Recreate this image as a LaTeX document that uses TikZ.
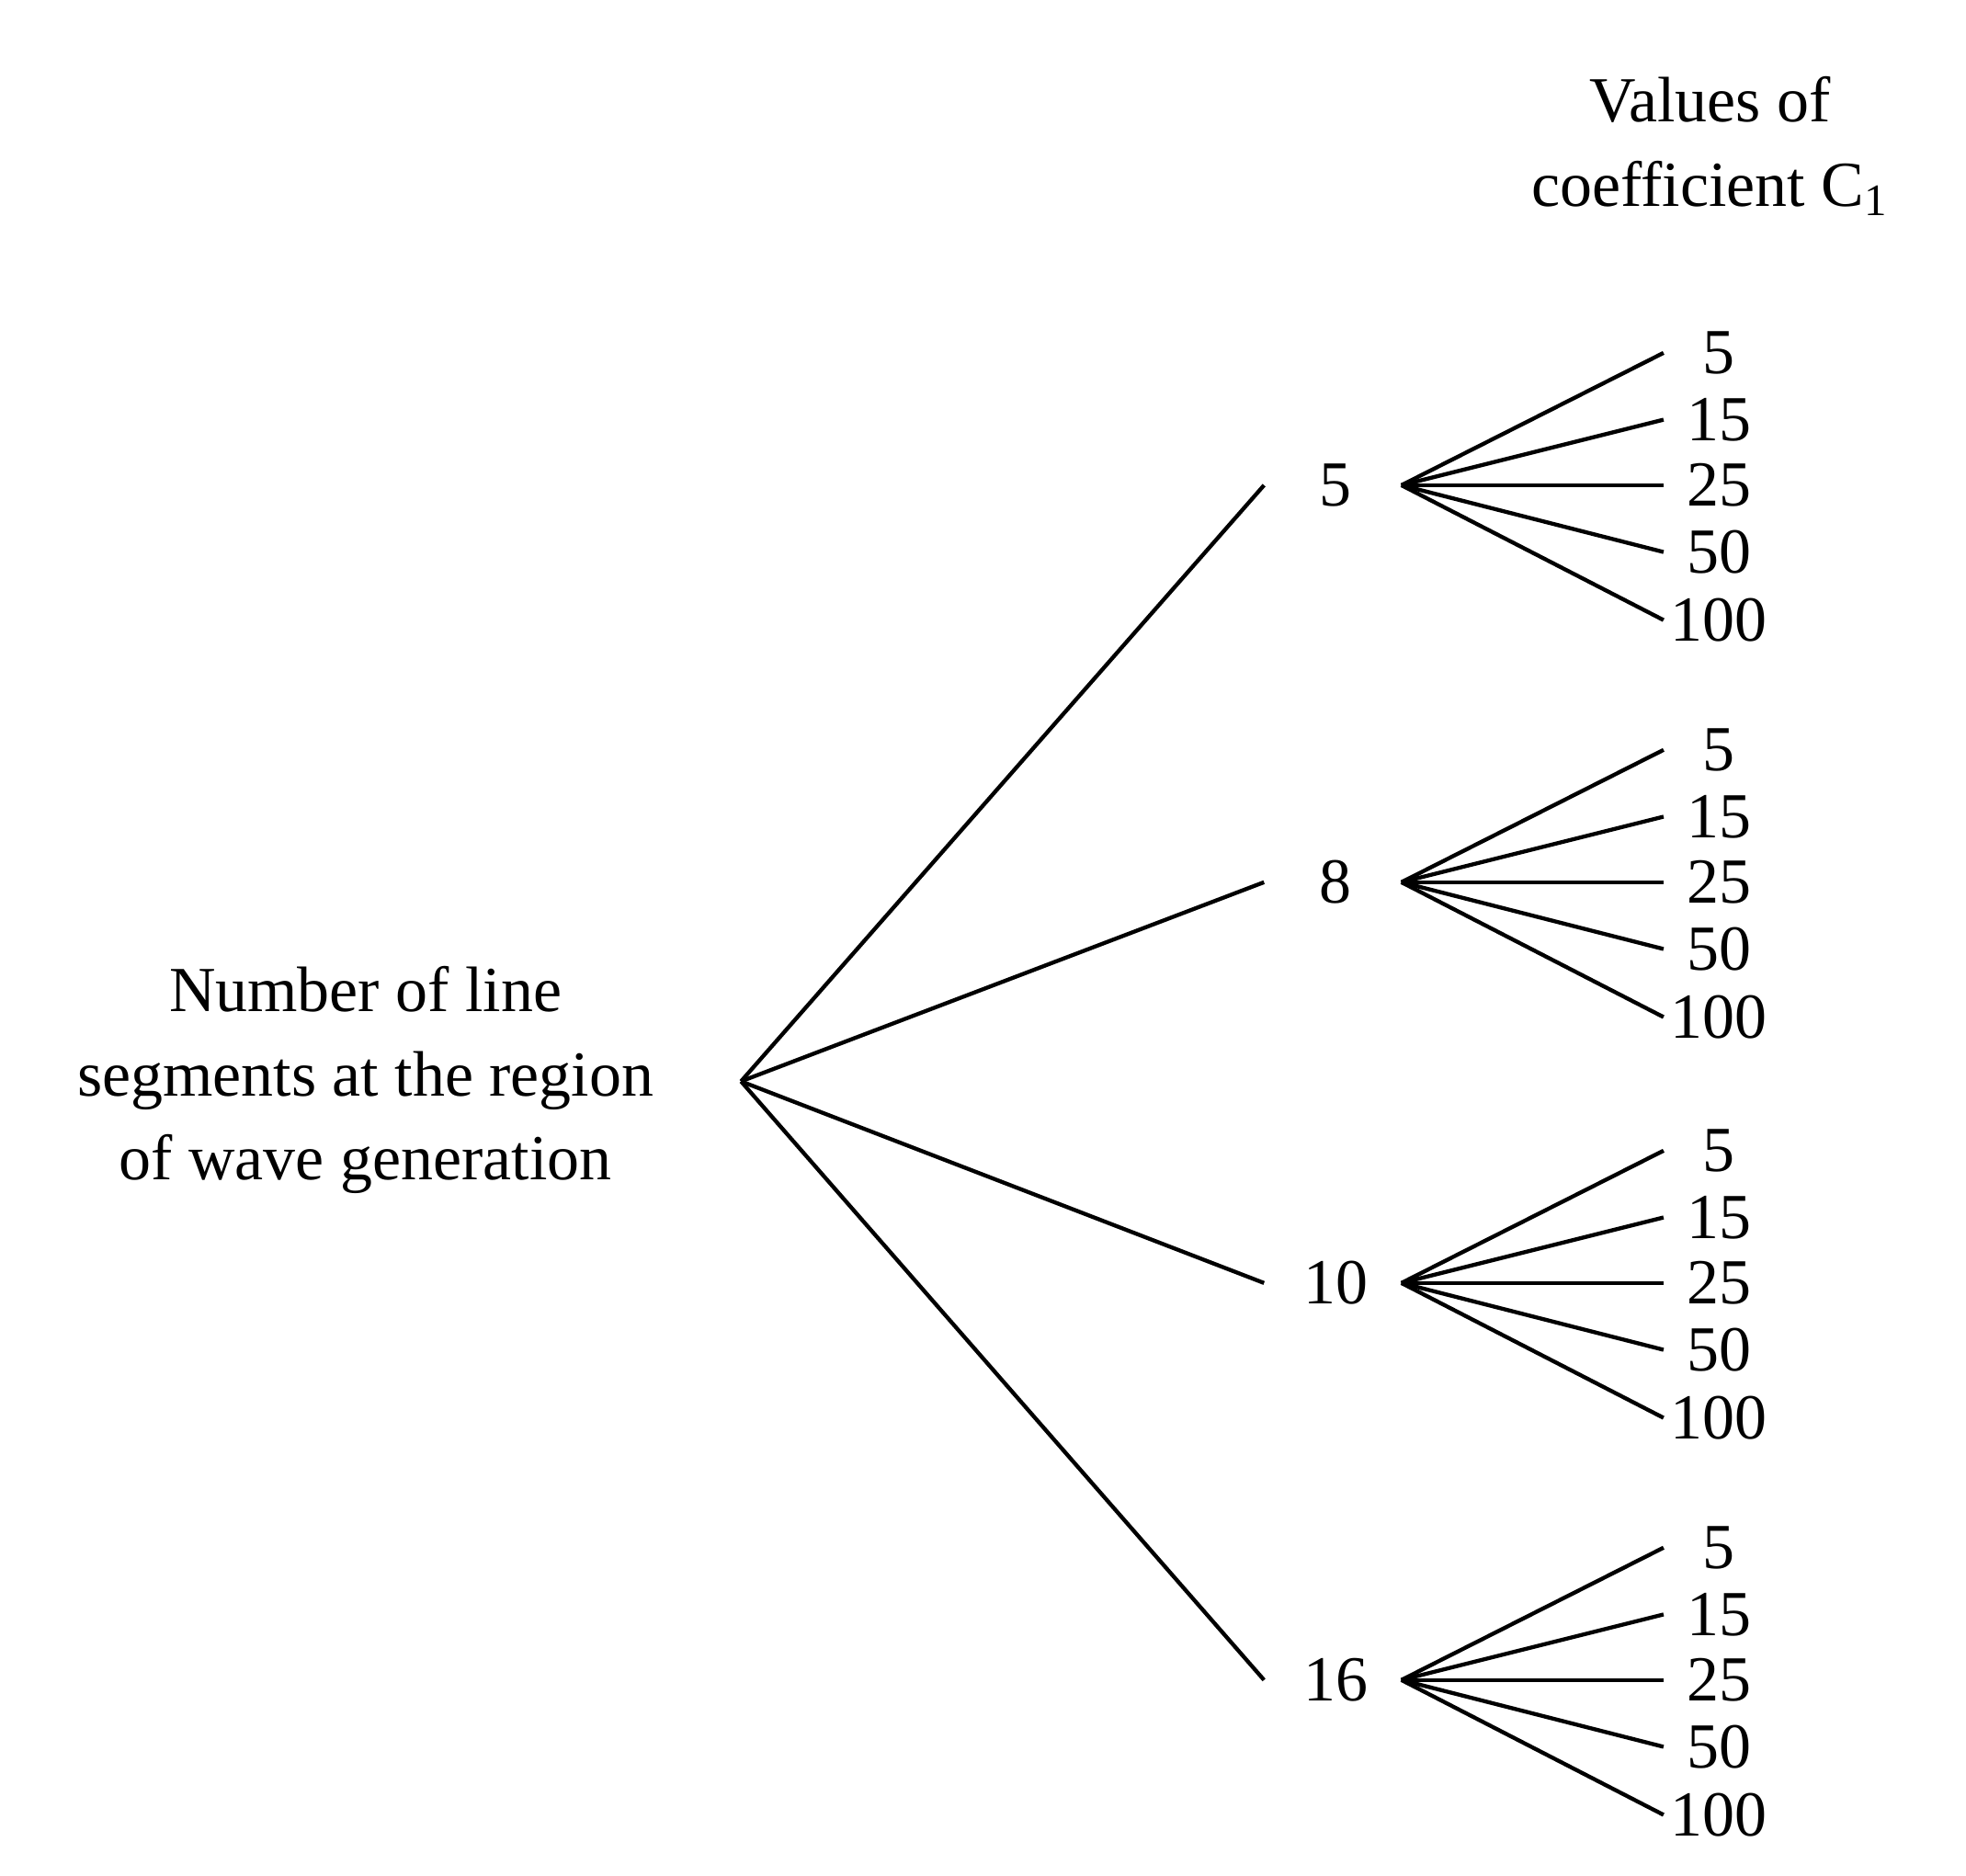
\documentclass[tikz,border=0pt]{standalone}
\usepackage{fontspec}
\setmainfont{Liberation Serif}
\begin{document}
\begin{tikzpicture}[x=0.01cm,y=-0.01cm,
  lbl/.style={font=\fontsize{14.5pt}{17.5pt}\selectfont, inner sep=0pt, align=center},
  ln/.style={line width=0.9pt}]
\useasboundingbox (0,0) rectangle (1560,1488);
\node[lbl] (title) at (1357,116) {Values of\\[1.5pt]coefficient C\textsubscript{1}};
\node[lbl] (rootlbl) at (290,857) {Number of line\\[1.5pt]segments at the region\\[1.5pt]of wave generation};
\coordinate (root) at (588,858);
\foreach \v/\y/\n in {5/385/a,8/700/b,10/1018/c,16/1333/d}{
  \coordinate (e\n) at (1003,\y);
  \node[lbl] (m\n) at (1060,\y) {\v};
  \coordinate (s\n) at (1112,\y);
  \draw[ln] (root) -- (e\n);
  \foreach \c/\dy/\k in {5/-105/1,15/-52/2,25/0/3,50/53/4,100/107/5}{
    \coordinate (t\n\k) at (1320,\y+\dy);
    \node[lbl] (v\n\k) at (1364,\y+\dy) {\c};
    \draw[ln] (s\n) -- (t\n\k);
  }
}
\end{tikzpicture}
\end{document}
